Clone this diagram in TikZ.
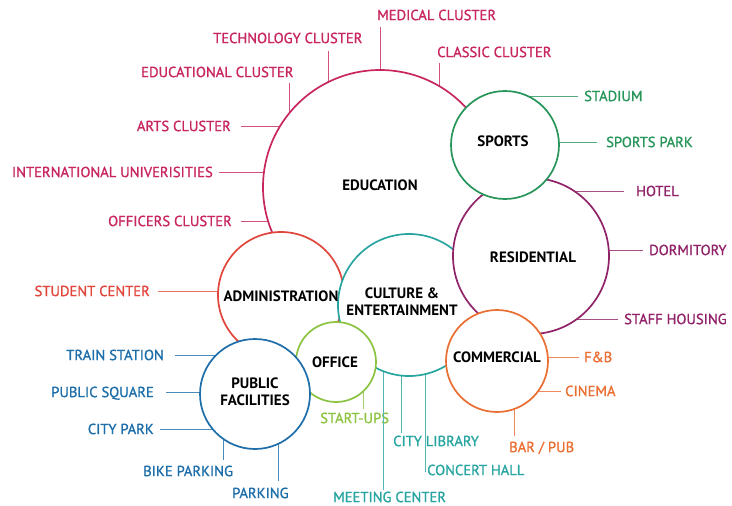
\documentclass[tikz,border=0pt]{standalone}
\usepackage{fontspec}
\setmainfont{PT Sans}
\newfontfamily\lblfont[FakeBold=1.2]{PT Sans}
\definecolor{cEdu}{RGB}{200,38,96}
\definecolor{cSpo}{RGB}{40,150,90}
\definecolor{cRes}{RGB}{145,35,105}
\definecolor{cAdm}{RGB}{225,70,60}
\definecolor{cCul}{RGB}{40,165,160}
\definecolor{cOff}{RGB}{140,195,65}
\definecolor{cPub}{RGB}{30,110,170}
\definecolor{cCom}{RGB}{235,110,50}
\begin{document}
\begin{tikzpicture}[x=1pt,y=-1pt,
  circ/.style={circle,draw=#1,fill=white,line width=1.7pt,inner sep=0pt},
  conn/.style={draw=#1!80!white,line width=0.9pt},
  lbl/.style={text=#1,font=\lblfont\fontsize{14.6}{14.6}\selectfont,inner sep=0pt,text height=10.2pt,text depth=0pt},
  ttl/.style={font=\bfseries\fontsize{15}{17}\selectfont,text=black,align=center,inner sep=0pt}]
\useasboundingbox (0,0) rectangle (732,506);

% ---------- label nodes ----------
\node[lbl=cEdu,anchor=west] (med) at (377,15) {MEDICAL CLUSTER};
\node[lbl=cEdu,anchor=west] (cla) at (437,52) {CLASSIC CLUSTER};
\node[lbl=cEdu,anchor=west] (tec) at (213,38) {TECHNOLOGY CLUSTER};
\node[lbl=cEdu,anchor=west] (edc) at (141,72) {EDUCATIONAL CLUSTER};
\node[lbl=cEdu,anchor=east] (art) at (231,126) {ARTS CLUSTER};
\node[lbl=cEdu,anchor=east] (int) at (213,172) {INTERNATIONAL UNIVERISITIES};
\node[lbl=cEdu,anchor=east] (ofc) at (232,221) {OFFICERS CLUSTER};
\node[lbl=cSpo,anchor=west] (sta) at (584,96) {STADIUM};
\node[lbl=cSpo,anchor=west] (spp) at (606,142) {SPORTS PARK};
\node[lbl=cRes,anchor=west] (hot) at (636,191) {HOTEL};
\node[lbl=cRes,anchor=west] (dor) at (649,250) {DORMITORY};
\node[lbl=cRes,anchor=west] (sth) at (624,319) {STAFF HOUSING};
\node[lbl=cAdm,anchor=east] (stu) at (150,291) {STUDENT CENTER};
\node[lbl=cPub,anchor=east] (tra) at (164,355) {TRAIN STATION};
\node[lbl=cPub,anchor=east] (pus) at (154,392) {PUBLIC SQUARE};
\node[lbl=cPub,anchor=east] (cip) at (154,429) {CITY PARK};
\node[lbl=cPub,anchor=west] (bik) at (143,471) {BIKE PARKING};
\node[lbl=cPub,anchor=west] (par) at (232,493) {PARKING};
\node[lbl=cOff,anchor=west] (stp) at (320,418) {START-UPS};
\node[lbl=cCul,anchor=west] (mee) at (333,497) {MEETING CENTER};
\node[lbl=cCul,anchor=west] (lib) at (393,441) {CITY LIBRARY};
\node[lbl=cCul,anchor=west] (con) at (427,470) {CONCERT HALL};
\node[lbl=cCom,anchor=west] (fnb) at (584,357) {F\&B};
\node[lbl=cCom,anchor=west] (cin) at (565,391) {CINEMA};
\node[lbl=cCom,anchor=west] (bar) at (509,447) {BAR / PUB};

% ---------- connector ends (just inside the circles) ----------
\coordinate (eMed) at (380,75);
\coordinate (eCla) at (439,90);
\coordinate (eTec) at (328,86);
\coordinate (eEdc) at (289,117);
\coordinate (eArt) at (284,126);
\coordinate (eInt) at (268,172);
\coordinate (eOfc) at (272,221);
\coordinate (eSta) at (520,96);
\coordinate (eSpp) at (550,142);
\coordinate (eHot) at (570,191);
\coordinate (eDor) at (600,250);
\coordinate (eSth) at (573,319);
\coordinate (eStu) at (225,291);
\coordinate (eTra) at (220,355);
\coordinate (ePus) at (205,392);
\coordinate (eCip) at (217,429);
\coordinate (eBik) at (223,434);
\coordinate (ePar) at (278,440);
\coordinate (eStp) at (363,387);
\coordinate (eMee) at (383,366);
\coordinate (eLib) at (401,371);
\coordinate (eCon) at (425,370);
\coordinate (eFnb) at (540,357);
\coordinate (eCin) at (534,391);
\coordinate (eBar) at (514,405);

% ---------- connectors ----------
\draw[conn=cEdu] ([yshift=-7pt]med.south -| eMed) -- (eMed);
\draw[conn=cEdu] ([yshift=-6pt]cla.south -| eCla) -- (eCla);
\draw[conn=cEdu] ([yshift=-8pt]tec.south -| eTec) -- (eTec);
\draw[conn=cEdu] ([yshift=-6pt]edc.south -| eEdc) -- (eEdc);
\draw[conn=cEdu] ([xshift=10pt]art.east) -- (eArt);
\draw[conn=cEdu] ([xshift=6pt]int.east) -- (eInt);
\draw[conn=cEdu] ([xshift=9pt]ofc.east) -- (eOfc);
\draw[conn=cSpo] ([xshift=-6pt]sta.west) -- (eSta);
\draw[conn=cSpo] ([xshift=-9pt]spp.west) -- (eSpp);
\draw[conn=cRes] ([xshift=-12pt]hot.west) -- (eHot);
\draw[conn=cRes] ([xshift=-6pt]dor.west) -- (eDor);
\draw[conn=cRes] ([xshift=-6pt]sth.west) -- (eSth);
\draw[conn=cAdm] ([xshift=8pt]stu.east) -- (eStu);
\draw[conn=cPub] ([xshift=11pt]tra.east) -- (eTra);
\draw[conn=cPub] ([xshift=12pt]pus.east) -- (ePus);
\draw[conn=cPub] ([xshift=6pt]cip.east) -- (eCip);
\draw[conn=cPub] ([yshift=6pt]bik.north -| eBik) -- (eBik);
\draw[conn=cPub] ([yshift=7pt]par.north -| ePar) -- (ePar);
\draw[conn=cOff] ([yshift=4pt]stp.north -| eStp) -- (eStp);
\draw[conn=cCul] ([yshift=2pt]mee.north -| eMee) -- (eMee);
\draw[conn=cCul] ([yshift=3pt]lib.north -| eLib) -- (eLib);
\draw[conn=cCul] (con.south -| eCon) ++(0,-3) -- (eCon);
\draw[conn=cCom] ([xshift=-5pt]fnb.west) -- (eFnb);
\draw[conn=cCom] ([xshift=-4pt]cin.west) -- (eCin);
\draw[conn=cCom] ([yshift=6pt]bar.north -| eBar) -- (eBar);

% ---------- circles (back to front) ----------
\node[circ=cEdu,minimum size=234pt] (edu) at (380,187) {};
\node[circ=cAdm,minimum size=126pt] (adm) at (281,295) {};
\node[circ=cCul,minimum size=142pt] (cul) at (409,305) {};
\node[circ=cRes,minimum size=156pt] (res) at (531,256) {};
\node[circ=cSpo,minimum size=108pt] (spo) at (505,145) {};
\node[circ=cOff,minimum size=80pt] (off) at (336,362) {};
\node[circ=cPub,minimum size=110pt] (pub) at (255,394) {};
\node[circ=cCom,minimum size=102pt] (com) at (497,361) {};

% ---------- titles ----------
\node[ttl] (eduT) at (380,185) {EDUCATION};
\node[ttl] (spoT) at (503,141) {SPORTS};
\node[ttl] (resT) at (533,257) {RESIDENTIAL};
\node[ttl] (admT) at (281,296) {ADMINISTRATION};
\node[ttl] (culT) at (402,302) {CULTURE \&\\ENTERTAINMENT};
\node[ttl] (offT) at (335,362) {OFFICE};
\node[ttl] (pubT) at (255,392) {PUBLIC\\FACILITIES};
\node[ttl] (comT) at (497,357) {COMMERCIAL};
\end{tikzpicture}
\end{document}
